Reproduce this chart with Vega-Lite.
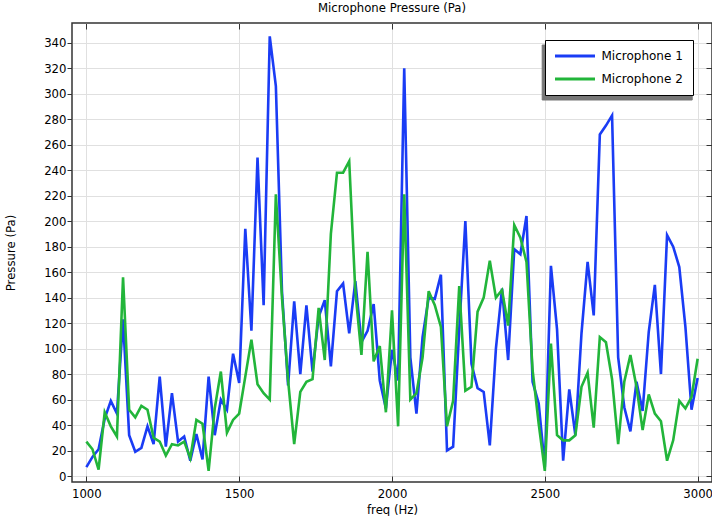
{
  "$schema": "https://vega.github.io/schema/vega-lite/v6.json",
  "width": 640,
  "height": 459,
  "autosize": {"type": "none"},
  "padding": {"left": 72, "top": 23, "right": 0, "bottom": 34},
  "background": "white",
  "title": {"text": "Microphone Pressure (Pa)", "font": "DejaVu Sans", "fontSize": 11.7, "fontWeight": "normal", "color": "#000", "offset": 8, "anchor": "middle", "frame": "group"},
  "config": {
    "font": "DejaVu Sans",
    "view": {"stroke": "#333", "strokeWidth": 1.5}
  },
  "data": {"values": [
    {"freq":1000,"mic":"Microphone 1","pressure":7},{"freq":1020,"mic":"Microphone 1","pressure":15},{"freq":1040,"mic":"Microphone 1","pressure":21},{"freq":1060,"mic":"Microphone 1","pressure":45},{"freq":1080,"mic":"Microphone 1","pressure":59},{"freq":1100,"mic":"Microphone 1","pressure":49},{"freq":1120,"mic":"Microphone 1","pressure":123},{"freq":1140,"mic":"Microphone 1","pressure":32},{"freq":1160,"mic":"Microphone 1","pressure":19},{"freq":1180,"mic":"Microphone 1","pressure":22},
    {"freq":1200,"mic":"Microphone 1","pressure":39},{"freq":1220,"mic":"Microphone 1","pressure":25},{"freq":1240,"mic":"Microphone 1","pressure":78},{"freq":1260,"mic":"Microphone 1","pressure":23},{"freq":1280,"mic":"Microphone 1","pressure":65},{"freq":1300,"mic":"Microphone 1","pressure":27},{"freq":1320,"mic":"Microphone 1","pressure":31},{"freq":1340,"mic":"Microphone 1","pressure":12},{"freq":1360,"mic":"Microphone 1","pressure":33},{"freq":1380,"mic":"Microphone 1","pressure":13},
    {"freq":1400,"mic":"Microphone 1","pressure":78},{"freq":1420,"mic":"Microphone 1","pressure":32},{"freq":1440,"mic":"Microphone 1","pressure":60},{"freq":1460,"mic":"Microphone 1","pressure":52},{"freq":1480,"mic":"Microphone 1","pressure":96},{"freq":1500,"mic":"Microphone 1","pressure":73},{"freq":1520,"mic":"Microphone 1","pressure":194},{"freq":1540,"mic":"Microphone 1","pressure":114},{"freq":1560,"mic":"Microphone 1","pressure":250},{"freq":1580,"mic":"Microphone 1","pressure":134},
    {"freq":1600,"mic":"Microphone 1","pressure":345},{"freq":1620,"mic":"Microphone 1","pressure":306},{"freq":1640,"mic":"Microphone 1","pressure":145},{"freq":1660,"mic":"Microphone 1","pressure":71},{"freq":1680,"mic":"Microphone 1","pressure":137},{"freq":1700,"mic":"Microphone 1","pressure":80},{"freq":1720,"mic":"Microphone 1","pressure":134},{"freq":1740,"mic":"Microphone 1","pressure":82},{"freq":1760,"mic":"Microphone 1","pressure":125},{"freq":1780,"mic":"Microphone 1","pressure":138},
    {"freq":1800,"mic":"Microphone 1","pressure":86},{"freq":1820,"mic":"Microphone 1","pressure":145},{"freq":1840,"mic":"Microphone 1","pressure":151},{"freq":1860,"mic":"Microphone 1","pressure":112},{"freq":1880,"mic":"Microphone 1","pressure":153},{"freq":1900,"mic":"Microphone 1","pressure":105},{"freq":1920,"mic":"Microphone 1","pressure":114},{"freq":1940,"mic":"Microphone 1","pressure":135},{"freq":1960,"mic":"Microphone 1","pressure":75},{"freq":1980,"mic":"Microphone 1","pressure":53},
    {"freq":2000,"mic":"Microphone 1","pressure":99},{"freq":2020,"mic":"Microphone 1","pressure":75},{"freq":2040,"mic":"Microphone 1","pressure":320},{"freq":2060,"mic":"Microphone 1","pressure":93},{"freq":2080,"mic":"Microphone 1","pressure":49},{"freq":2100,"mic":"Microphone 1","pressure":109},{"freq":2120,"mic":"Microphone 1","pressure":140},{"freq":2140,"mic":"Microphone 1","pressure":139},{"freq":2160,"mic":"Microphone 1","pressure":158},{"freq":2180,"mic":"Microphone 1","pressure":20},
    {"freq":2200,"mic":"Microphone 1","pressure":23},{"freq":2220,"mic":"Microphone 1","pressure":115},{"freq":2240,"mic":"Microphone 1","pressure":200},{"freq":2260,"mic":"Microphone 1","pressure":88},{"freq":2280,"mic":"Microphone 1","pressure":69},{"freq":2300,"mic":"Microphone 1","pressure":66},{"freq":2320,"mic":"Microphone 1","pressure":24},{"freq":2340,"mic":"Microphone 1","pressure":100},{"freq":2360,"mic":"Microphone 1","pressure":147},{"freq":2380,"mic":"Microphone 1","pressure":91},
    {"freq":2400,"mic":"Microphone 1","pressure":178},{"freq":2420,"mic":"Microphone 1","pressure":174},{"freq":2440,"mic":"Microphone 1","pressure":204},{"freq":2460,"mic":"Microphone 1","pressure":74},{"freq":2480,"mic":"Microphone 1","pressure":57},{"freq":2500,"mic":"Microphone 1","pressure":7},{"freq":2520,"mic":"Microphone 1","pressure":165},{"freq":2540,"mic":"Microphone 1","pressure":115},{"freq":2560,"mic":"Microphone 1","pressure":12},{"freq":2580,"mic":"Microphone 1","pressure":68},
    {"freq":2600,"mic":"Microphone 1","pressure":32},{"freq":2620,"mic":"Microphone 1","pressure":112},{"freq":2640,"mic":"Microphone 1","pressure":168},{"freq":2660,"mic":"Microphone 1","pressure":126},{"freq":2680,"mic":"Microphone 1","pressure":268},{"freq":2700,"mic":"Microphone 1","pressure":275},{"freq":2720,"mic":"Microphone 1","pressure":283},{"freq":2740,"mic":"Microphone 1","pressure":93},{"freq":2760,"mic":"Microphone 1","pressure":54},{"freq":2780,"mic":"Microphone 1","pressure":35},
    {"freq":2800,"mic":"Microphone 1","pressure":74},{"freq":2820,"mic":"Microphone 1","pressure":51},{"freq":2840,"mic":"Microphone 1","pressure":113},{"freq":2860,"mic":"Microphone 1","pressure":150},{"freq":2880,"mic":"Microphone 1","pressure":80},{"freq":2900,"mic":"Microphone 1","pressure":189},{"freq":2920,"mic":"Microphone 1","pressure":180},{"freq":2940,"mic":"Microphone 1","pressure":164},{"freq":2960,"mic":"Microphone 1","pressure":117},{"freq":2980,"mic":"Microphone 1","pressure":52},
    {"freq":3000,"mic":"Microphone 1","pressure":77},
    {"freq":1000,"mic":"Microphone 2","pressure":27},{"freq":1020,"mic":"Microphone 2","pressure":21},{"freq":1040,"mic":"Microphone 2","pressure":5},{"freq":1060,"mic":"Microphone 2","pressure":50},{"freq":1080,"mic":"Microphone 2","pressure":39},{"freq":1100,"mic":"Microphone 2","pressure":31},{"freq":1120,"mic":"Microphone 2","pressure":156},{"freq":1140,"mic":"Microphone 2","pressure":52},{"freq":1160,"mic":"Microphone 2","pressure":46},{"freq":1180,"mic":"Microphone 2","pressure":55},
    {"freq":1200,"mic":"Microphone 2","pressure":52},{"freq":1220,"mic":"Microphone 2","pressure":30},{"freq":1240,"mic":"Microphone 2","pressure":27},{"freq":1260,"mic":"Microphone 2","pressure":16},{"freq":1280,"mic":"Microphone 2","pressure":25},{"freq":1300,"mic":"Microphone 2","pressure":24},{"freq":1320,"mic":"Microphone 2","pressure":27},{"freq":1340,"mic":"Microphone 2","pressure":14},{"freq":1360,"mic":"Microphone 2","pressure":44},{"freq":1380,"mic":"Microphone 2","pressure":41},
    {"freq":1400,"mic":"Microphone 2","pressure":4},{"freq":1420,"mic":"Microphone 2","pressure":53},{"freq":1440,"mic":"Microphone 2","pressure":82},{"freq":1460,"mic":"Microphone 2","pressure":34},{"freq":1480,"mic":"Microphone 2","pressure":44},{"freq":1500,"mic":"Microphone 2","pressure":49},{"freq":1520,"mic":"Microphone 2","pressure":78},{"freq":1540,"mic":"Microphone 2","pressure":107},{"freq":1560,"mic":"Microphone 2","pressure":72},{"freq":1580,"mic":"Microphone 2","pressure":65},
    {"freq":1600,"mic":"Microphone 2","pressure":60},{"freq":1620,"mic":"Microphone 2","pressure":221},{"freq":1640,"mic":"Microphone 2","pressure":140},{"freq":1660,"mic":"Microphone 2","pressure":75},{"freq":1680,"mic":"Microphone 2","pressure":25},{"freq":1700,"mic":"Microphone 2","pressure":66},{"freq":1720,"mic":"Microphone 2","pressure":74},{"freq":1740,"mic":"Microphone 2","pressure":76},{"freq":1760,"mic":"Microphone 2","pressure":132},{"freq":1780,"mic":"Microphone 2","pressure":91},
    {"freq":1800,"mic":"Microphone 2","pressure":190},{"freq":1820,"mic":"Microphone 2","pressure":238},{"freq":1840,"mic":"Microphone 2","pressure":238},{"freq":1860,"mic":"Microphone 2","pressure":247},{"freq":1880,"mic":"Microphone 2","pressure":145},{"freq":1900,"mic":"Microphone 2","pressure":95},{"freq":1920,"mic":"Microphone 2","pressure":176},{"freq":1940,"mic":"Microphone 2","pressure":90},{"freq":1960,"mic":"Microphone 2","pressure":102},{"freq":1980,"mic":"Microphone 2","pressure":50},
    {"freq":2000,"mic":"Microphone 2","pressure":130},{"freq":2020,"mic":"Microphone 2","pressure":39},{"freq":2040,"mic":"Microphone 2","pressure":221},{"freq":2060,"mic":"Microphone 2","pressure":60},{"freq":2080,"mic":"Microphone 2","pressure":65},{"freq":2100,"mic":"Microphone 2","pressure":93},{"freq":2120,"mic":"Microphone 2","pressure":145},{"freq":2140,"mic":"Microphone 2","pressure":134},{"freq":2160,"mic":"Microphone 2","pressure":117},{"freq":2180,"mic":"Microphone 2","pressure":39},
    {"freq":2200,"mic":"Microphone 2","pressure":59},{"freq":2220,"mic":"Microphone 2","pressure":149},{"freq":2240,"mic":"Microphone 2","pressure":67},{"freq":2260,"mic":"Microphone 2","pressure":70},{"freq":2280,"mic":"Microphone 2","pressure":129},{"freq":2300,"mic":"Microphone 2","pressure":140},{"freq":2320,"mic":"Microphone 2","pressure":169},{"freq":2340,"mic":"Microphone 2","pressure":140},{"freq":2360,"mic":"Microphone 2","pressure":146},{"freq":2380,"mic":"Microphone 2","pressure":118},
    {"freq":2400,"mic":"Microphone 2","pressure":197},{"freq":2420,"mic":"Microphone 2","pressure":187},{"freq":2440,"mic":"Microphone 2","pressure":168},{"freq":2460,"mic":"Microphone 2","pressure":83},{"freq":2480,"mic":"Microphone 2","pressure":41},{"freq":2500,"mic":"Microphone 2","pressure":4},{"freq":2520,"mic":"Microphone 2","pressure":104},{"freq":2540,"mic":"Microphone 2","pressure":32},{"freq":2560,"mic":"Microphone 2","pressure":28},{"freq":2580,"mic":"Microphone 2","pressure":28},
    {"freq":2600,"mic":"Microphone 2","pressure":32},{"freq":2620,"mic":"Microphone 2","pressure":70},{"freq":2640,"mic":"Microphone 2","pressure":81},{"freq":2660,"mic":"Microphone 2","pressure":38},{"freq":2680,"mic":"Microphone 2","pressure":109},{"freq":2700,"mic":"Microphone 2","pressure":105},{"freq":2720,"mic":"Microphone 2","pressure":76},{"freq":2740,"mic":"Microphone 2","pressure":25},{"freq":2760,"mic":"Microphone 2","pressure":74},{"freq":2780,"mic":"Microphone 2","pressure":95},
    {"freq":2800,"mic":"Microphone 2","pressure":70},{"freq":2820,"mic":"Microphone 2","pressure":36},{"freq":2840,"mic":"Microphone 2","pressure":64},{"freq":2860,"mic":"Microphone 2","pressure":49},{"freq":2880,"mic":"Microphone 2","pressure":43},{"freq":2900,"mic":"Microphone 2","pressure":12},{"freq":2920,"mic":"Microphone 2","pressure":28},{"freq":2940,"mic":"Microphone 2","pressure":59},{"freq":2960,"mic":"Microphone 2","pressure":53},{"freq":2980,"mic":"Microphone 2","pressure":62},
    {"freq":3000,"mic":"Microphone 2","pressure":92}
  ]},
  "layer": [
    {
      "mark": {"type": "line", "strokeWidth": 2.6},
      "encoding": {
        "x": {"field": "freq", "type": "quantitative",
          "scale": {"domain": [953, 3047], "nice": false, "zero": false},
          "axis": {"orient": "bottom", "values": [1000, 1500, 2000, 2500, 3000], "format": "d",
            "grid": true, "gridColor": "#e0e0e0", "gridWidth": 1, "domain": false,
            "tickSize": -6, "tickColor": "#333", "tickWidth": 1,
            "labelFont": "DejaVu Sans", "labelFontSize": 11.7, "labelColor": "#000", "labelPadding": 12,
            "title": "freq (Hz)", "titleFont": "DejaVu Sans", "titleFontSize": 11.7, "titleFontWeight": "normal", "titleColor": "#000", "titlePadding": 5}},
        "y": {"field": "pressure", "type": "quantitative",
          "scale": {"domain": [-4.7, 355.5], "nice": false, "zero": false},
          "axis": {"orient": "left", "values": [0,20,40,60,80,100,120,140,160,180,200,220,240,260,280,300,320,340],
            "grid": true, "gridColor": "#e0e0e0", "gridWidth": 1, "domain": false,
            "tickSize": 5, "tickColor": "#333", "tickWidth": 1,
            "labelFont": "DejaVu Sans", "labelFontSize": 11.7, "labelColor": "#000", "labelPadding": 1,
            "title": "Pressure (Pa)", "titleFont": "DejaVu Sans", "titleFontSize": 11.7, "titleFontWeight": "normal", "titleColor": "#000", "titlePadding": 27}},
        "color": {"field": "mic", "type": "nominal",
          "scale": {"domain": ["Microphone 1", "Microphone 2"], "range": ["#1a3cf5", "#22b53a"]},
          "legend": {"orient": "none", "legendX": 473, "legendY": 17, "title": null, "direction": "vertical",
            "symbolType": "stroke", "symbolSize": 1600, "symbolStrokeWidth": 3, "symbolOffset": -1.5, "clipHeight": 12, "rowPadding": 11,
            "padding": 10, "labelOffset": 5, "labelFont": "DejaVu Sans", "labelFontSize": 12, "labelColor": "#000",
            "strokeColor": "#000", "fillColor": "#fff", "zindex": 2}}
      }
    },
    {
      "mark": {"type": "line", "strokeWidth": 2.6},
      "encoding": {
        "x": {"field": "freq", "type": "quantitative",
          "axis": {"orient": "top", "values": [1000, 1500, 2000, 2500, 3000], "grid": false, "domain": false, "labels": false,
            "tickSize": -6, "tickColor": "#333", "tickWidth": 1, "title": null}},
        "y": {"field": "pressure", "type": "quantitative",
          "axis": {"orient": "right", "values": [0,20,40,60,80,100,120,140,160,180,200,220,240,260,280,300,320,340], "grid": false, "domain": false, "labels": false,
            "tickSize": -6, "tickColor": "#333", "tickWidth": 1, "title": null}},
        "detail": {"field": "mic", "type": "nominal"},
        "opacity": {"field": "mic", "type": "ordinal", "scale": {"range": [0, 0]},
          "legend": {"orient": "none", "legendX": 469.7, "legendY": 21.5, "title": null, "direction": "vertical",
            "values": ["Microphone 1"], "labelExpr": "''",
            "symbolType": "stroke", "symbolSize": 16129, "symbolStrokeWidth": 3, "clipHeight": 35, "rowPadding": 0,
            "padding": 10, "labelOffset": 0, "labelFontSize": 12, "labelOpacity": 0,
            "strokeColor": "#777", "fillColor": "#777", "zindex": 1}}
      }
    }
  ],
  "resolve": {"axis": {"x": "independent", "y": "independent"}}
}
